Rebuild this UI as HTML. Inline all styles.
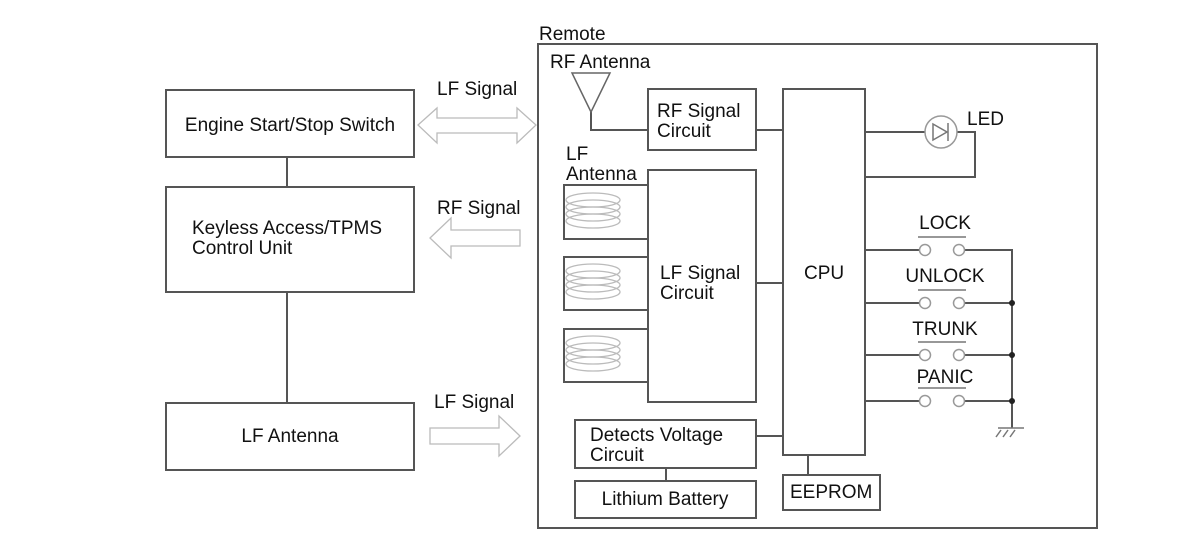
<!DOCTYPE html>
<html><head><meta charset="utf-8"><style>
body{margin:0;background:#fff}
text{font-family:"Liberation Sans",sans-serif;font-size:19px;fill:#111}
</style></head><body>
<svg width="1200" height="552" viewBox="0 0 1200 552" xmlns="http://www.w3.org/2000/svg">
<g fill="none" stroke="#555" stroke-width="2">
<rect x="166" y="90" width="248" height="67"/>
<rect x="166" y="187" width="248" height="105"/>
<rect x="166" y="403" width="248" height="67"/>
<line x1="287" y1="157" x2="287" y2="187"/>
<line x1="287" y1="292" x2="287" y2="403"/>
<rect x="538" y="44" width="559" height="484"/>
<rect x="648" y="89" width="108" height="61"/>
<rect x="783" y="89" width="82" height="366"/>
<rect x="648" y="170" width="108" height="232"/>
<rect x="575" y="420" width="181" height="48"/>
<rect x="575" y="481" width="181" height="37"/>
<rect x="783" y="475" width="97" height="35"/>
<line x1="666" y1="468" x2="666" y2="481"/>
<line x1="808" y1="455" x2="808" y2="475"/>
<line x1="756" y1="130" x2="783" y2="130"/>
<line x1="756" y1="283" x2="783" y2="283"/>
<line x1="756" y1="436" x2="783" y2="436"/>
<polyline points="591,112 591,130 648,130"/>
<polygon points="572,73 610,73 591,112" stroke="#666" stroke-width="1.5"/>
<polyline points="648,185 564,185 564,239 648,239"/>
<polyline points="648,257 564,257 564,310 648,310"/>
<polyline points="648,329 564,329 564,382 648,382"/>
<polyline points="865,132 975,132 975,177 865,177"/>
<polyline points="865,250 925,250"/><polyline points="959,250 1012,250 1012,428"/>
<polyline points="865,303 925,303"/><polyline points="959,303 1012,303"/>
<polyline points="865,355 925,355"/><polyline points="959,355 1012,355"/>
<polyline points="865,401 925,401"/><polyline points="959,401 1012,401"/>
</g>
<g fill="#fff" stroke="#999" stroke-width="1.5">
<circle cx="941" cy="132" r="16"/>
<circle cx="925" cy="250" r="5.5"/><circle cx="959" cy="250" r="5.5"/>
<circle cx="925" cy="303" r="5.5"/><circle cx="959" cy="303" r="5.5"/>
<circle cx="925" cy="355" r="5.5"/><circle cx="959" cy="355" r="5.5"/>
<circle cx="925" cy="401" r="5.5"/><circle cx="959" cy="401" r="5.5"/>
</g>
<g stroke="#777" stroke-width="1.5" fill="none">
<polygon points="933,124 933,140 947,132"/><line x1="948" y1="123" x2="948" y2="141"/>
<line x1="918" y1="237" x2="966" y2="237"/><line x1="918" y1="290" x2="966" y2="290"/>
<line x1="918" y1="342" x2="966" y2="342"/><line x1="918" y1="388" x2="966" y2="388"/>
<line x1="998" y1="428" x2="1024" y2="428"/>
<line x1="1001" y1="430" x2="996" y2="437"/><line x1="1008" y1="430" x2="1003" y2="437"/><line x1="1015" y1="430" x2="1010" y2="437"/>
</g>
<g fill="#222"><circle cx="1012" cy="303" r="3"/><circle cx="1012" cy="355" r="3"/><circle cx="1012" cy="401" r="3"/></g>
<g fill="none" stroke="#bbb" stroke-width="1.3">
<g id="c"><ellipse cx="593" cy="200" rx="27" ry="7"/><ellipse cx="593" cy="207" rx="27" ry="7"/><ellipse cx="593" cy="214" rx="27" ry="7"/><ellipse cx="593" cy="221" rx="27" ry="7"/></g>
<use href="#c" y="71"/><use href="#c" y="143"/>
<polygon points="418,125 437,108 437,118 517,118 517,108 536,125 517,143 517,133 437,133 437,143"/>
<polygon points="430,238 451,218 451,230 520,230 520,246 451,246 451,258"/>
<polygon points="430,428 499,428 499,416 520,436 499,456 499,444 430,444"/>
</g>
<text x="539" y="40">Remote</text>
<text x="550" y="68">RF Antenna</text>
<text x="657" y="117">RF Signal</text><text x="657" y="137">Circuit</text>
<text x="566" y="160">LF</text><text x="566" y="180">Antenna</text>
<text x="660" y="279">LF Signal</text><text x="660" y="299">Circuit</text>
<text x="804" y="279">CPU</text>
<text x="590" y="441">Detects Voltage</text><text x="590" y="461">Circuit</text>
<text x="665" y="505" text-anchor="middle">Lithium Battery</text>
<text x="790" y="498">EEPROM</text>
<text x="967" y="125">LED</text>
<text x="945" y="229" text-anchor="middle">LOCK</text>
<text x="945" y="282" text-anchor="middle">UNLOCK</text>
<text x="945" y="335" text-anchor="middle">TRUNK</text>
<text x="945" y="383" text-anchor="middle">PANIC</text>
<text x="290" y="131" text-anchor="middle">Engine Start/Stop Switch</text>
<text x="192" y="234">Keyless Access/TPMS</text><text x="192" y="254">Control Unit</text>
<text x="290" y="442" text-anchor="middle">LF Antenna</text>
<text x="437" y="95">LF Signal</text>
<text x="437" y="214">RF Signal</text>
<text x="434" y="408">LF Signal</text>
</svg>
</body></html>
